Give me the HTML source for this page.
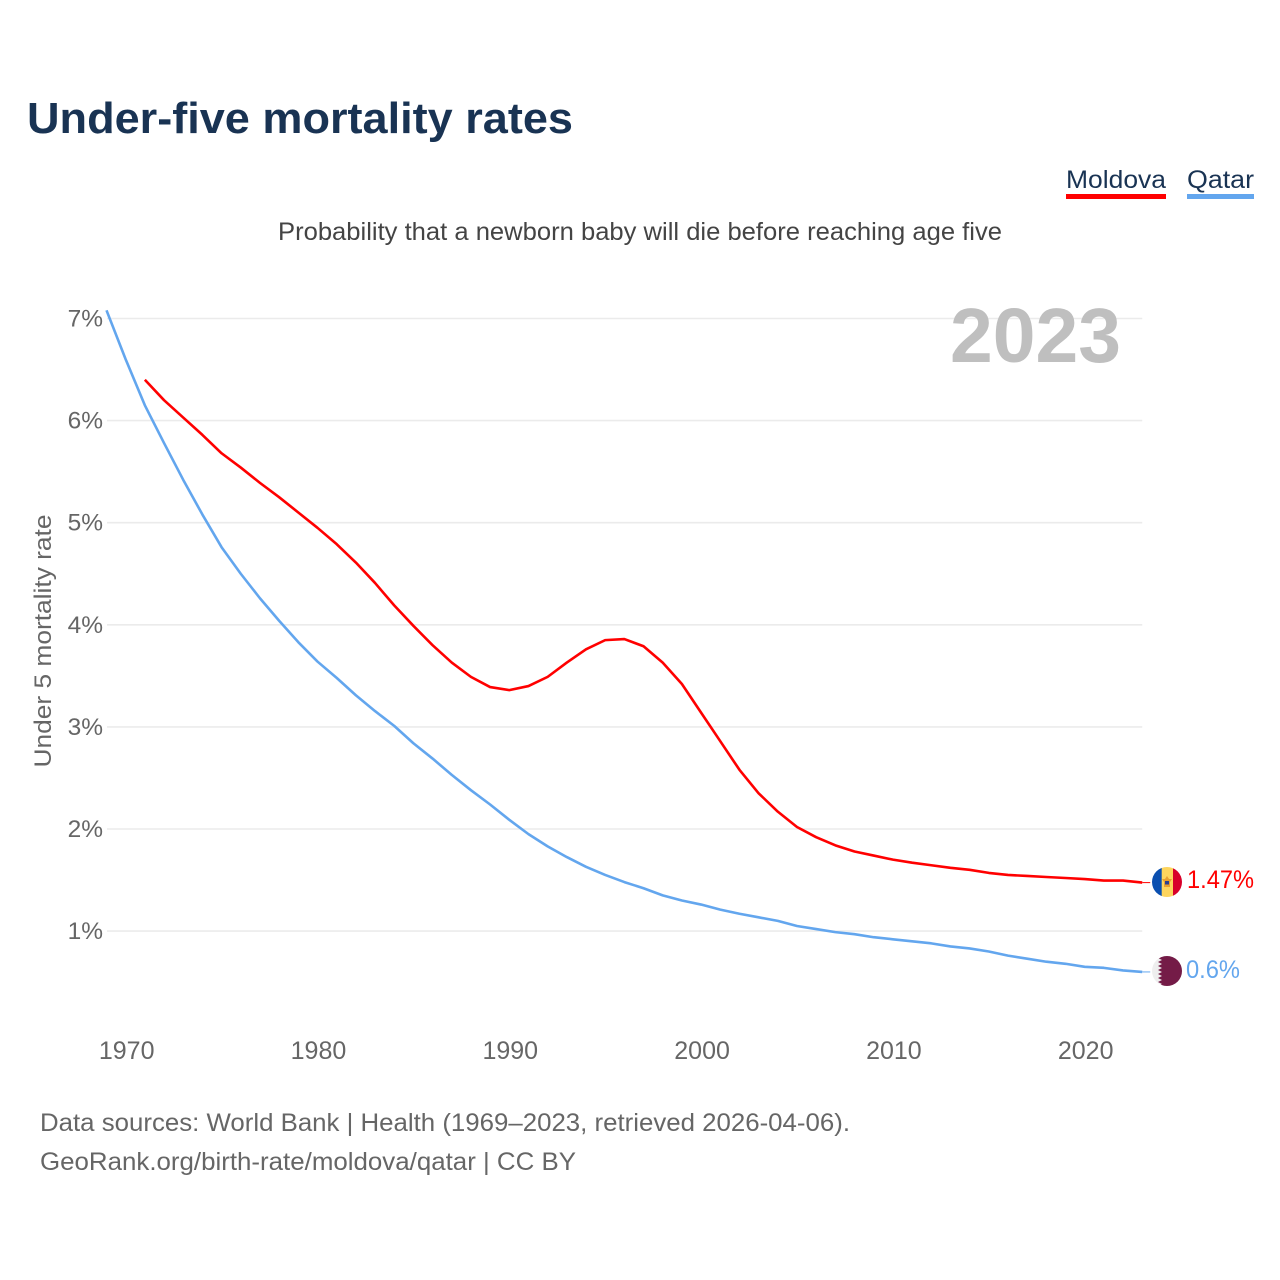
<!DOCTYPE html>
<html lang="en">
<head>
<meta charset="utf-8">
<title>Under-five mortality rates</title>
<style>
html,body{margin:0;padding:0;background:#fff;width:1280px;height:1280px;overflow:hidden}
svg{display:block}
text{font-family:"Liberation Sans",Arial,sans-serif}
</style>
</head>
<body>
<svg id="chart" xmlns="http://www.w3.org/2000/svg" width="1280" height="1280" viewBox="0 0 1280 1280">
  <defs>
    <clipPath id="flag-clip-md"><circle cx="1167" cy="882" r="15"/></clipPath>
    <clipPath id="flag-clip-qa"><circle cx="1167" cy="971" r="15"/></clipPath>
  </defs>
  <text x="27" y="133" font-size="44" font-weight="700" fill="#193353" textLength="546" lengthAdjust="spacingAndGlyphs">Under-five mortality rates</text>

  <text x="1066" y="188" font-size="25" fill="#193353" textLength="100" lengthAdjust="spacingAndGlyphs">Moldova</text>
  <rect x="1066" y="194" width="100" height="5" fill="#ff0000"/>
  <text x="1187" y="188" font-size="25" fill="#193353" textLength="67" lengthAdjust="spacingAndGlyphs">Qatar</text>
  <rect x="1187" y="194" width="67" height="5" fill="#63a6ee"/>

  <text x="278" y="240" font-size="25" fill="#444444" textLength="724" lengthAdjust="spacingAndGlyphs">Probability that a newborn baby will die before reaching age five</text>

  <g id="grid"></g>
  <g id="y-ticks"></g>
  <g id="x-ticks"></g>

  <text x="950" y="362" font-size="77" font-weight="700" fill="#bfbfbf" textLength="171" lengthAdjust="spacingAndGlyphs">2023</text>

  <text transform="translate(51,641) rotate(-90)" text-anchor="middle" font-size="24.5" fill="#666666" textLength="253" lengthAdjust="spacingAndGlyphs">Under 5 mortality rate</text>

  <g id="series"></g>

  <g clip-path="url(#flag-clip-md)">
    <rect x="1152" y="867" width="10" height="30" fill="#0a4fb0"/>
    <rect x="1161.7" y="867" width="11.5" height="30" fill="#fdd55e"/>
    <rect x="1173" y="867" width="9" height="30" fill="#d8002a"/>
    <polygon points="1167,876 1169,879 1172,879 1170,882 1170,887 1164,887 1164,882 1162,879 1165,879" fill="#e8a030"/>
    <rect x="1165" y="881" width="4" height="3.5" fill="#2a3f8f"/>
  </g>
  <g clip-path="url(#flag-clip-qa)">
    <rect x="1152" y="956" width="30" height="30" fill="#eeeeee"/>
    <polygon fill="#741b47" points="1182,956 1162,956 1158,958 1162,960 1158,962 1162,964 1158,966 1162,968 1158,970 1162,972 1158,974 1162,976 1158,978 1162,980 1158,982 1162,984 1158,986 1182,986"/>
  </g>

  <text x="1187" y="888" font-size="25" fill="#ff0000" textLength="67" lengthAdjust="spacingAndGlyphs">1.47%</text>
  <text x="1186" y="978" font-size="25" fill="#63a6ee" textLength="54" lengthAdjust="spacingAndGlyphs">0.6%</text>

  <text x="40" y="1131" font-size="25" fill="#666666" textLength="810" lengthAdjust="spacingAndGlyphs">Data sources: World Bank | Health (1969–2023, retrieved 2026-04-06).</text>
  <text x="40" y="1170" font-size="25" fill="#666666" textLength="536" lengthAdjust="spacingAndGlyphs">GeoRank.org/birth-rate/moldova/qatar | CC BY</text>
</svg>
<script>
const yTickValues = [1, 2, 3, 4, 5, 6, 7];
const xTickYears = [1970, 1980, 1990, 2000, 2010, 2020];
const moldovaStartYear = 1971;
const moldovaValues = [6.40, 6.20, 6.03, 5.86, 5.68, 5.54, 5.39, 5.25, 5.10, 4.95, 4.79, 4.61, 4.41, 4.19, 3.99, 3.80, 3.63, 3.49, 3.39, 3.36, 3.40, 3.49, 3.63, 3.76, 3.85, 3.86, 3.79, 3.63, 3.42, 3.14, 2.86, 2.58, 2.35, 2.17, 2.02, 1.92, 1.84, 1.78, 1.74, 1.70, 1.67, 1.645, 1.62, 1.60, 1.57, 1.55, 1.54, 1.53, 1.52, 1.51, 1.495, 1.495, 1.475];
const qatarStartYear = 1969;
const qatarValues = [7.08, 6.60, 6.15, 5.78, 5.42, 5.08, 4.76, 4.50, 4.26, 4.04, 3.83, 3.64, 3.48, 3.31, 3.155, 3.01, 2.84, 2.69, 2.53, 2.38, 2.24, 2.09, 1.95, 1.83, 1.725, 1.63, 1.55, 1.48, 1.42, 1.35, 1.30, 1.26, 1.21, 1.17, 1.135, 1.10, 1.05, 1.02, 0.99, 0.97, 0.94, 0.92, 0.90, 0.88, 0.85, 0.83, 0.80, 0.76, 0.73, 0.70, 0.68, 0.65, 0.64, 0.615, 0.60];

const SVG_NS = 'http://www.w3.org/2000/svg';
function xScale(year) { return 106.5 + (year - 1969) * 19.18; }
function yScale(value) { return 1033.2 - value * 102.1; }

const gridGroup = document.getElementById('grid');
const yTickGroup = document.getElementById('y-ticks');
const xTickGroup = document.getElementById('x-ticks');
const seriesGroup = document.getElementById('series');

yTickValues.forEach(function (v) {
  const line = document.createElementNS(SVG_NS, 'line');
  line.setAttribute('x1', 107);
  line.setAttribute('x2', xScale(2023));
  line.setAttribute('y1', yScale(v));
  line.setAttribute('y2', yScale(v));
  line.setAttribute('stroke', '#ebebeb');
  line.setAttribute('stroke-width', '1.6');
  
  
  gridGroup.appendChild(line);

  const label = document.createElementNS(SVG_NS, 'text');
  label.setAttribute('x', 103);
  label.setAttribute('y', yScale(v) + 8);
  label.setAttribute('text-anchor', 'end');
  label.setAttribute('font-size', '24.5');
  label.setAttribute('fill', '#666666');
  
  
  label.textContent = v + '%';
  yTickGroup.appendChild(label);
});

xTickYears.forEach(function (year) {
  const label = document.createElementNS(SVG_NS, 'text');
  label.setAttribute('x', xScale(year) + 1);
  label.setAttribute('y', 1059);
  label.setAttribute('text-anchor', 'middle');
  label.setAttribute('font-size', '25');
  label.setAttribute('fill', '#666666');
  
  
  label.textContent = String(year);
  xTickGroup.appendChild(label);
});

function drawSeries(values, startYear, color) {
  const pts = values.map(function (v, i) {
    return xScale(startYear + i).toFixed(2) + ',' + yScale(v).toFixed(2);
  });
  const line = document.createElementNS(SVG_NS, 'polyline');
  line.setAttribute('points', pts.join(' '));
  line.setAttribute('fill', 'none');
  line.setAttribute('stroke', color);
  line.setAttribute('stroke-width', '2.6');
  line.setAttribute('stroke-linejoin', 'round');
  return line;
}

function drawLeader(values, startYear, color) {
  const last = values[values.length - 1];
  const y = yScale(last);
  const x0 = xScale(startYear + values.length - 1);
  const leader = document.createElementNS(SVG_NS, 'line');
  leader.setAttribute('x1', x0);
  leader.setAttribute('x2', x0 + 8);
  leader.setAttribute('y1', y);
  leader.setAttribute('y2', y);
  leader.setAttribute('stroke', color);
  leader.setAttribute('stroke-width', '1');
  return leader;
}

const qatarLine = drawSeries(qatarValues, qatarStartYear, '#63a6ee');


seriesGroup.appendChild(qatarLine);

const moldovaLine = drawSeries(moldovaValues, moldovaStartYear, '#ff0000');


seriesGroup.appendChild(moldovaLine);

const qatarLeader = drawLeader(qatarValues, qatarStartYear, '#63a6ee');


seriesGroup.appendChild(qatarLeader);

const moldovaLeader = drawLeader(moldovaValues, moldovaStartYear, '#ff0000');


seriesGroup.appendChild(moldovaLeader);
</script>
</body>
</html>
